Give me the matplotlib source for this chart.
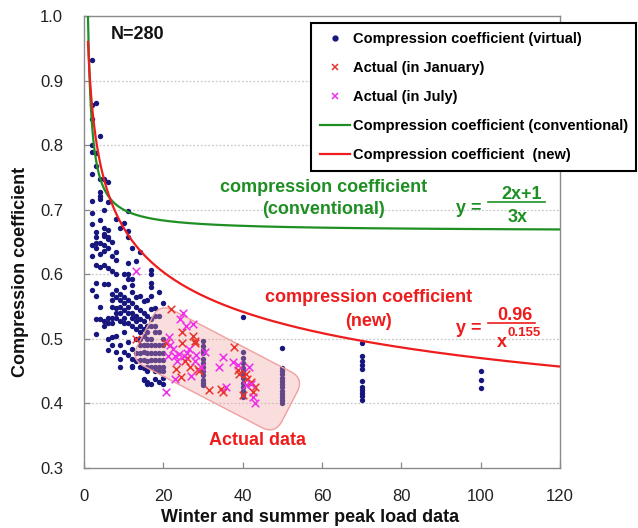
import matplotlib
matplotlib.use("Agg")
import matplotlib.pyplot as plt
import numpy as np
from matplotlib.patches import FancyBboxPatch
from matplotlib.transforms import Affine2D, IdentityTransform
from matplotlib.lines import Line2D
from matplotlib.ticker import FormatStrFormatter

plt.rcParams['font.family'] = ['Liberation Sans', 'DejaVu Sans']

# ---------------- data ----------------
# virtual compression coefficients, grouped by x (peak load data count)
virtual_cols_x = [2, 3, 4, 5, 6, 7, 8, 9, 10, 11, 12, 13, 14, 15, 16, 17, 18, 19, 20,
                  30, 40, 50, 70, 100]
virtual_cols_y = [
    [0.932, 0.862, 0.84, 0.80, 0.79, 0.755, 0.714, 0.695, 0.678, 0.645, 0.628, 0.575],
    [0.865, 0.788, 0.767, 0.666, 0.658, 0.648, 0.64, 0.615, 0.587, 0.567, 0.508, 0.53],
    [0.814, 0.748, 0.728, 0.722, 0.717, 0.684, 0.648, 0.632, 0.612, 0.549, 0.53],
    [0.747, 0.70, 0.671, 0.662, 0.66, 0.645, 0.636, 0.615, 0.585, 0.527, 0.52],
    [0.743, 0.712, 0.669, 0.658, 0.655, 0.64, 0.61, 0.585, 0.532, 0.524, 0.482, 0.50],
    [0.65, 0.628, 0.605, 0.57, 0.56, 0.55, 0.532, 0.524, 0.503, 0.49],
    [0.685, 0.635, 0.622, 0.60, 0.575, 0.565, 0.548, 0.54, 0.532, 0.504, 0.48],
    [0.672, 0.57, 0.56, 0.55, 0.54, 0.527, 0.49, 0.469, 0.456],
    [0.68, 0.601, 0.58, 0.565, 0.555, 0.545, 0.532, 0.524, 0.51, 0.48],
    [0.698, 0.667, 0.657, 0.617, 0.60, 0.593, 0.56, 0.55, 0.54, 0.524, 0.495, 0.475],
    [0.64, 0.592, 0.583, 0.573, 0.555, 0.54, 0.532, 0.52, 0.485, 0.469, 0.458, 0.456],
    [0.62, 0.565, 0.55, 0.535, 0.527, 0.515, 0.50, 0.478, 0.465],
    [0.635, 0.567, 0.545, 0.53, 0.52, 0.51, 0.50, 0.49, 0.478, 0.467, 0.456],
    [0.558, 0.54, 0.527, 0.515, 0.505, 0.49, 0.48, 0.467, 0.455, 0.438, 0.436],
    [0.56, 0.535, 0.52, 0.51, 0.50, 0.49, 0.478, 0.465, 0.456, 0.45, 0.433, 0.43],
    [0.607, 0.60, 0.586, 0.58, 0.567, 0.547, 0.53, 0.52, 0.50, 0.49, 0.478, 0.467, 0.456, 0.43],
    [0.548, 0.535, 0.52, 0.51, 0.49, 0.478, 0.467, 0.456, 0.45, 0.438],
    [0.573, 0.535, 0.51, 0.49, 0.478, 0.467, 0.456, 0.45, 0.433],
    [0.555, 0.50, 0.49, 0.478, 0.468, 0.456, 0.45, 0.44, 0.43],
    [0.496, 0.489, 0.483, 0.478, 0.469, 0.463, 0.457, 0.45, 0.444, 0.437, 0.432, 0.428],
    [0.534, 0.48, 0.47, 0.462, 0.455, 0.45, 0.445, 0.44, 0.432, 0.425, 0.42, 0.415, 0.41],
    [0.486, 0.455, 0.45, 0.445, 0.44, 0.435, 0.43, 0.425, 0.42, 0.415, 0.41, 0.405, 0.40],
    [0.494, 0.474, 0.466, 0.460, 0.453, 0.434, 0.426, 0.421, 0.416, 0.411, 0.405],
    [0.450, 0.437, 0.424],
]

jan_x = [13, 20.7, 22, 24.8, 24.8, 27.4, 27.9, 23.2, 24.5, 26.6, 28.7, 29, 26, 31.6, 35,
         34.5, 37.9, 39.1, 40.8, 38.7, 42, 42.5, 40, 41.2, 43, 25.5, 28]
jan_y = [0.50, 0.493, 0.547, 0.51, 0.493, 0.505, 0.493, 0.454, 0.441, 0.456, 0.454, 0.45,
         0.47, 0.421, 0.418, 0.423, 0.487, 0.446, 0.446, 0.451, 0.433, 0.418, 0.413, 0.438,
         0.425, 0.465, 0.497]

jul_x = [13.2, 24.9, 24.3, 25.8, 27.6, 21.5, 21.8, 21.3, 23, 24, 25.3, 26, 28.2, 22.9, 27,
         20.7, 29.5, 30.6, 34, 35, 35.8, 37.5, 38.7, 41.7, 42, 42.5, 43, 40.8, 22.5, 26.5,
         28, 23.5]
jul_y = [0.605, 0.54, 0.53, 0.52, 0.523, 0.503, 0.49, 0.473, 0.473, 0.476, 0.473, 0.478,
         0.475, 0.438, 0.443, 0.418, 0.456, 0.48, 0.456, 0.472, 0.425, 0.464, 0.46, 0.456,
         0.43, 0.41, 0.40, 0.428, 0.485, 0.485, 0.465, 0.465]

# fitted curves, as stated on the chart: y=(2x+1)/(3x) and y=0.96/x^0.155
conv_a, conv_b, conv_c = 2.0, 1.0, 3.0
new_k, new_p = 0.96, 0.155

x_ticks = [0, 20, 40, 60, 80, 100, 120]
y_ticks = [0.3, 0.4, 0.5, 0.6, 0.7, 0.8, 0.9, 1.0]

legend_labels = ["Compression coefficient (virtual)", "Actual (in January)",
                 "Actual (in July)", "Compression coefficient (conventional)",
                 "Compression coefficient  (new)"]

# ---------------- colours ----------------
NAVY = '#16167e'
RED = '#ee1c1c'
JAN = '#e8342c'
MAG = '#ee2ee8'
GREEN = '#1f8f24'
GRAY = '#8a8a8a'

W, H = 638, 528
fig = plt.figure(figsize=(W / 100, H / 100), dpi=100)
ax = fig.add_axes([84 / W, (H - 468) / H, (560 - 84) / W, (468 - 16) / H])

vx = np.concatenate([[x] * len(ys) for x, ys in zip(virtual_cols_x, virtual_cols_y)])
vy = np.concatenate(virtual_cols_y)

xc = np.linspace(1, 120, 600)
y_conv = (conv_a * xc + conv_b) / (conv_c * xc)
y_new = new_k / xc ** new_p

ax.set_xlim(0, 120)
ax.set_ylim(0.3, 1.0)

sc_v = ax.scatter(vx, vy, s=15, color=NAVY, zorder=2, linewidths=0)

# shaded "actual data" region (rotated rounded rectangle)
cx, cy = ax.transData.transform((33.6, 0.4535))
L, Wd = 163, 63
rect = FancyBboxPatch((-L / 2, -Wd / 2), L, Wd,
                      boxstyle="round,pad=0,rounding_size=15",
                      facecolor=(241 / 255, 160 / 255, 160 / 255, 0.35),
                      edgecolor='#f0a0a0', linewidth=1.0,
                      transform=Affine2D().rotate_deg(-27.5).translate(cx, cy) + IdentityTransform(),
                      zorder=2.5)
ax.add_patch(rect)

sc_j = ax.scatter(jan_x, jan_y, marker='x', s=30, color=JAN, linewidths=1.1, zorder=3)
sc_m = ax.scatter(jul_x, jul_y, marker='x', s=30, color=MAG, linewidths=1.1, zorder=3)
ln_c, = ax.plot(xc, y_conv, color=GREEN, lw=1.6, zorder=4)
ln_n, = ax.plot(xc, y_new, color=RED, lw=1.6, zorder=4)

# grid, spines, ticks
for yv in [0.4, 0.5, 0.6, 0.7, 0.8, 0.9]:
    ax.axhline(yv, color='#c8c8c8', lw=0.9, ls=(0, (1.5, 1.5)), zorder=1)
for sp in ax.spines.values():
    sp.set_color(GRAY)
    sp.set_linewidth(1.0)
ax.set_xticks(x_ticks)
ax.set_yticks(y_ticks)
ax.yaxis.set_major_formatter(FormatStrFormatter('%.1f'))
ax.tick_params(axis='both', direction='in', length=4, width=0.9, color=GRAY,
               labelsize=12, labelcolor='#222222')
ax.tick_params(axis='y', pad=15)
ax.tick_params(axis='x', pad=15)

# axis labels
fig.text(21 / W, 1 - 272 / H, "Compression coefficient", rotation=90, fontsize=13,
         fontweight='bold', ha='center', va='center', color='#111111')
fig.text(310 / W, 1 - 517 / H, "Winter and summer peak load data", fontsize=13,
         fontweight='bold', ha='center', va='center', color='#111111')

# annotations
ax.text(6.8, 0.972, "N=280", fontsize=13, fontweight='bold', ha='left', va='center',
        color='#111111')
ax.text(60.5, 0.735, "compression coefficient", fontsize=13, fontweight='bold',
        color=GREEN, ha='center', va='center')
ax.text(60.5, 0.700, "(conventional)", fontsize=13, fontweight='bold',
        color=GREEN, ha='center', va='center')
ax.text(71.8, 0.564, "compression coefficient", fontsize=13, fontweight='bold',
        color=RED, ha='center', va='center')
ax.text(71.8, 0.5276, "(new)", fontsize=13, fontweight='bold',
        color=RED, ha='center', va='center')
ax.text(43.7, 0.3426, "Actual data", fontsize=13, fontweight='bold',
        color=RED, ha='center', va='center')

# green formula
ax.text(96.9, 0.695, "y =", fontsize=13, fontweight='bold', color=GREEN, ha='center', va='baseline')
ax.text(110.3, 0.716, "2x+1", fontsize=13, fontweight='bold', color=GREEN, ha='center', va='baseline')
ax.plot([101.9, 116.1], [0.712, 0.712], color=GREEN, lw=1.2)
ax.text(109.4, 0.681, "3x", fontsize=13, fontweight='bold', color=GREEN, ha='center', va='baseline')
# red formula
ax.text(96.9, 0.509, "y =", fontsize=13, fontweight='bold', color=RED, ha='center', va='baseline')
ax.text(108.7, 0.5287, "0.96", fontsize=13, fontweight='bold', color=RED, ha='center', va='baseline')
ax.plot([101.9, 113.7], [0.525, 0.525], color=RED, lw=1.2)
ax.text(105.4, 0.4873, "x", fontsize=13, fontweight='bold', color=RED, ha='center', va='baseline')
ax.text(106.7, 0.5039, "0.155", fontsize=9.5, fontweight='bold', color=RED, ha='left', va='baseline')

# legend
h_v = Line2D([], [], ls='none', marker='o', ms=3.5, color=NAVY)
h_j = Line2D([], [], ls='none', marker='x', ms=5, mew=1.1, color=JAN)
h_m = Line2D([], [], ls='none', marker='x', ms=5, mew=1.1, color=MAG)
h_c = Line2D([], [], color=GREEN, lw=1.6)
h_n = Line2D([], [], color=RED, lw=1.6)
leg = ax.legend([h_v, h_j, h_m, h_c, h_n], legend_labels,
                loc='upper left', bbox_to_anchor=(311 / W, 1 - 23 / H),
                bbox_transform=fig.transFigure, fancybox=False, framealpha=1,
                edgecolor='black', borderpad=0.6, labelspacing=1.03,
                handlelength=2.1, handletextpad=0.15, borderaxespad=0,
                prop={'size': 10.5, 'weight': 'bold'})
leg.get_frame().set_linewidth(1.5)
leg.set_zorder(10)

fig.savefig("out.png", dpi=100, facecolor='white')
